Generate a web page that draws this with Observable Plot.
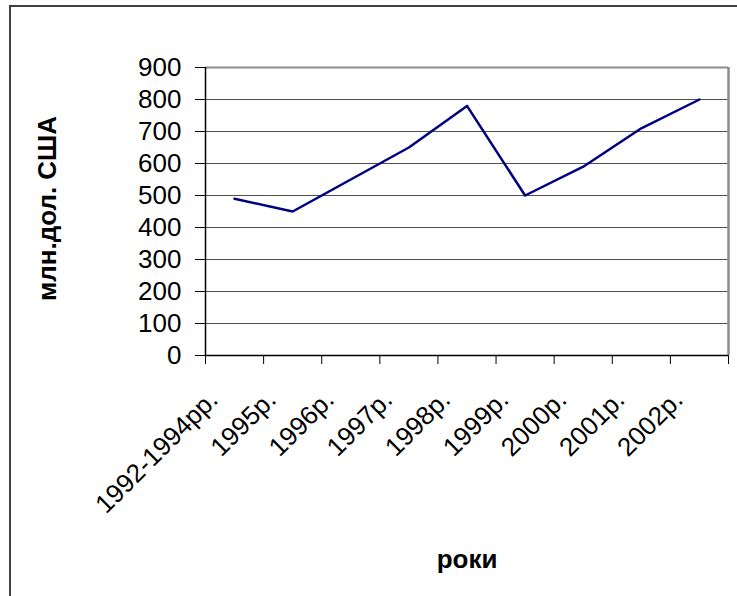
<!DOCTYPE html>
<html>
<head>
<meta charset="utf-8">
<script src="https://cdn.jsdelivr.net/npm/d3@7"></script>
<script src="https://cdn.jsdelivr.net/npm/@observablehq/plot@0.6"></script>
<style>
  html, body { margin: 0; padding: 0; background: #fff; }
  #wrap { position: relative; width: 737px; height: 596px; overflow: hidden; }
  #border { position: absolute; left: 9px; top: 5px; width: 800px; height: 700px; border: 2px solid #404040; box-sizing: border-box; }
  #chart { position: absolute; left: 0; top: 0; }
</style>
</head>
<body>
<div id="wrap"><div id="border"></div><div id="chart"></div></div>
<script>
const categories = ["1992-1994рр.", "1995р.", "1996р.", "1997р.", "1998р.", "1999р.", "2000р.", "2001р.", "2002р."];
const values = [490, 450, 550, 650, 780, 500, 590, 710, 800];
const yTicks = [0, 100, 200, 300, 400, 500, 600, 700, 800, 900];
const yTitle = "млн.дол. США";
const xTitle = "роки";

const data = categories.map((c, i) => ({cat: c, idx: i + 0.5, value: values[i]}));
const boundaries = d3.range(categories.length + 1);
const font = "'Liberation Sans', Arial, sans-serif";

const chart = Plot.plot({
  width: 737,
  height: 596,
  marginLeft: 205,
  marginRight: 9,
  marginTop: 67,
  marginBottom: 241,
  style: {fontFamily: font, background: "transparent", color: "#000"},
  x: {domain: [0, categories.length], axis: null, label: null},
  y: {domain: [0, 900], axis: null, label: null},
  marks: [
    Plot.gridY(yTicks, {stroke: "#505050", strokeOpacity: 1, strokeWidth: 1}),
    Plot.ruleY([900], {stroke: "#8c8c8c", strokeWidth: 2}),
    Plot.ruleX([categories.length], {stroke: "#8c8c8c", strokeWidth: 2.5}),
    Plot.axisY(yTicks, {tickSize: 10, tickPadding: 14, fontSize: 26, tickFormat: d => String(d), stroke: "#000", label: null}),
    Plot.axisX(boundaries, {tickSize: 9, tickFormat: () => "", stroke: "#000", label: null}),
    Plot.ruleX([0], {stroke: "#000", strokeWidth: 1.5}),
    Plot.ruleY([0], {stroke: "#000", strokeWidth: 1.5}),
    Plot.line(data, {x: "idx", y: "value", stroke: "#000080", strokeWidth: 2.5}),
    Plot.text(data, {x: "idx", text: "cat", frameAnchor: "bottom", rotate: -45, textAnchor: "end", lineAnchor: "middle", dx: -21, dy: 40, fontSize: 26, fill: "#000"}),
    Plot.text([yTitle], {frameAnchor: "left", rotate: -90, textAnchor: "middle", lineAnchor: "middle", dx: -158, dy: -3, fontSize: 26, fontWeight: "bold", fill: "#000"}),
    Plot.text([xTitle], {frameAnchor: "bottom", textAnchor: "middle", lineAnchor: "middle", dy: 204, fontSize: 26, fontWeight: "bold", fill: "#000"})
  ]
});
document.getElementById("chart").appendChild(chart);
</script>
</body>
</html>
